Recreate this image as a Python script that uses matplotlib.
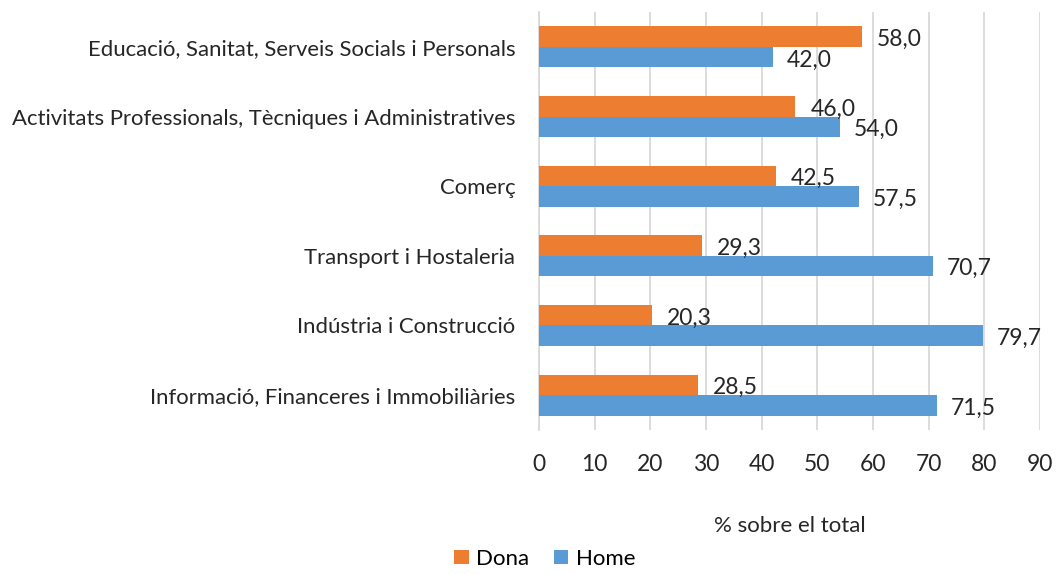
import matplotlib
matplotlib.use("Agg")
import matplotlib.pyplot as plt
import numpy as np

categories = [
    "Educació, Sanitat, Serveis Socials i Personals",
    "Activitats Professionals, Tècniques i Administratives",
    "Comerç",
    "Transport i Hostaleria",
    "Indústria i Construcció",
    "Informació, Financeres i Immobiliàries",
]
dona = [58.0, 46.0, 42.5, 29.3, 20.3, 28.5]
home = [42.0, 54.0, 57.5, 70.7, 79.7, 71.5]
xticks = [0, 10, 20, 30, 40, 50, 60, 70, 80, 90]

plt.rcParams['font.family'] = ['Lato', 'DejaVu Sans']
fig = plt.figure(figsize=(10.56, 5.74), dpi=100)
ax = fig.add_axes([0.5104, 0.251, 0.4744, 0.728])

y = np.arange(len(categories))
h = 0.294
c_dona = "#ED7D31"
c_home = "#5B9BD5"
ax.barh(y - h / 2, dona, height=h, color=c_dona, label="Dona", zorder=3)
ax.barh(y + h / 2, home, height=h, color=c_home, label="Home", zorder=3)

fs = 16.5
for yi, v in zip(y - h / 2, dona):
    ax.annotate(f"{v:.1f}".replace(".", ","), (v, yi), xytext=(11, -2),
                textcoords="offset points", va="center", ha="left",
                fontsize=fs, color="#262626", zorder=4)
for yi, v in zip(y + h / 2, home):
    ax.annotate(f"{v:.1f}".replace(".", ","), (v, yi), xytext=(10, -2),
                textcoords="offset points", va="center", ha="left",
                fontsize=fs, color="#262626", zorder=4)

ax.set_ylim(len(categories) - 0.5, -0.5)
ax.set_xlim(0, 90)
ax.set_xticks(xticks)
ax.set_xticklabels([str(t) for t in xticks], fontsize=fs, color="#262626")
ax.set_yticks(y)
ax.set_yticklabels(categories, fontsize=15.9, color="#262626")
ax.tick_params(axis="y", length=0, pad=17)
ax.tick_params(axis="x", length=0, pad=17)
ax.xaxis.grid(True, color="#D9D9D9", linewidth=1.3, zorder=0)
for s in ["top", "right", "bottom"]:
    ax.spines[s].set_visible(False)
ax.spines["left"].set_color("#D9D9D9")
ax.spines["left"].set_linewidth(1.3)
ax.set_xlabel("% sobre el total", fontsize=16, color="#262626", labelpad=30)

fig.legend(loc="lower center", bbox_to_anchor=(0.516, -0.022), ncol=2,
           frameon=False, fontsize=16, handlelength=0.65, handleheight=0.65,
           handletextpad=0.35, columnspacing=1.1, borderpad=0.3)

fig.savefig("out.png", dpi=100)
